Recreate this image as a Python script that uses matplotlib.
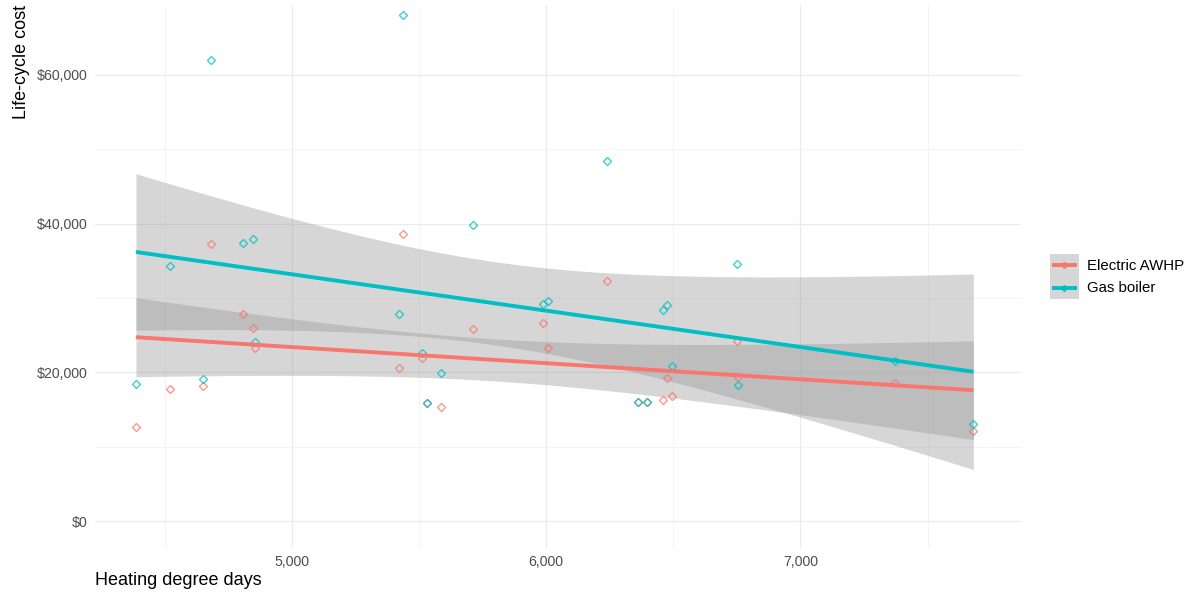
import numpy as np
import matplotlib
matplotlib.use("Agg")
import matplotlib.pyplot as plt
import matplotlib.ticker as ticker
from matplotlib.patches import Rectangle
from matplotlib.lines import Line2D

plt.rcParams['font.family'] = ['Liberation Sans', 'DejaVu Sans']

# heating degree days per site (same sites for both systems)
hdd = [4387, 4521, 4650, 4682, 4807, 4847, 4855, 5420, 5436, 5511, 5530, 5585, 5711,
       5987, 6006, 6238, 6363, 6395, 6458, 6477, 6493, 6752, 6756, 7373, 7680]

# life-cycle cost, gas boiler
gas_cost = [18430, 34300, 19100, 62000, 37400, 37900, 24080, 27840, 68060, 22600, 15870,
            19900, 39810, 29190, 29590, 48420, 16000, 16000, 28380, 29050, 20850, 34570,
            18300, 21520, 13050]

# life-cycle cost, electric air-to-water heat pump
awhp_cost = [12640, 17750, 18160, 37260, 27840, 25960, 23270, 20580, 38600, 21920, 15870,
             15330, 25820, 26630, 23270, 32280, 16000, 16000, 16270, 19230, 16810, 24210,
             19370, 18560, 12100]

series = [("Electric AWHP", awhp_cost, "#F8766D"), ("Gas boiler", gas_cost, "#00BFC4")]

T_CRIT = 2.069  # t(0.975, df=23)


def lm_band(x, y, n=80):
    x = np.asarray(x, float)
    y = np.asarray(y, float)
    b, a = np.polyfit(x, y, 1)
    resid = y - (a + b * x)
    s = np.sqrt(np.sum(resid ** 2) / (len(x) - 2))
    xs = np.linspace(x.min(), x.max(), n)
    se = s * np.sqrt(1 / len(x) + (xs - x.mean()) ** 2 / np.sum((x - x.mean()) ** 2))
    fit = a + b * xs
    return xs, fit, fit - T_CRIT * se, fit + T_CRIT * se


class KeyHandler:
    # grey ribbon box with the fit line and a point, like ggplot's legend key
    def legend_artist(self, legend, orig_handle, fontsize, handlebox):
        x0, y0 = -handlebox.xdescent, -handlebox.ydescent
        w, h = handlebox.width, handlebox.height
        tr = handlebox.get_transform()
        col = orig_handle.get_color()
        bg = Rectangle((x0, y0), w, h, facecolor="#d6d6d6", edgecolor="none", transform=tr)
        ln = Line2D([x0 + 0.08 * w, x0 + 0.92 * w], [y0 + h / 2] * 2, color=col, linewidth=2.8,
                    solid_capstyle="butt", transform=tr)
        mk = Line2D([x0 + w / 2], [y0 + h / 2], marker="D", markersize=3, markerfacecolor="none",
                    markeredgecolor=col, linestyle="none", transform=tr)
        for a in (bg, ln, mk):
            handlebox.add_artist(a)
        return bg


fig = plt.figure(figsize=(11.92, 5.94), dpi=100)
ax = fig.add_axes([0.0797, 0.0774, 0.777, 0.9142])

handles = []
for name, cost, col in series:
    xs, fit, lo, hi = lm_band(hdd, cost)
    ax.fill_between(xs, lo, hi, color="#999999", alpha=0.4, linewidth=0, zorder=2)
    fit_line, = ax.plot(xs, fit, color=col, linewidth=2.8, zorder=4, solid_capstyle="butt")
    ax.plot(hdd, cost, linestyle="none", marker="D", markersize=3.8, markerfacecolor="none",
            markeredgecolor=col, markeredgewidth=1.0, alpha=0.75, zorder=3)
    handles.append(fit_line)

ax.set_xlim(4226, 7868)
ax.set_ylim(-3630, 69400)

ax.xaxis.set_major_locator(ticker.MultipleLocator(1000))
ax.xaxis.set_minor_locator(ticker.MultipleLocator(500))
ax.yaxis.set_major_locator(ticker.MultipleLocator(20000))
ax.yaxis.set_minor_locator(ticker.MultipleLocator(10000))
ax.xaxis.set_major_formatter(ticker.FuncFormatter(lambda v, p: f"{v:,.0f}"))
ax.yaxis.set_major_formatter(ticker.FuncFormatter(lambda v, p: f"${v:,.0f}"))

ax.grid(which="major", color="#ebebeb", linewidth=0.9, zorder=0)
ax.grid(which="minor", color="#f3f3f3", linewidth=0.6, zorder=0)
ax.set_axisbelow(True)
for sp in ax.spines.values():
    sp.set_visible(False)
ax.tick_params(which="both", length=0, labelsize=10.2, labelcolor="#4d4d4d", pad=5)

ax.set_xlabel("Heating degree days", fontsize=13, loc="left", labelpad=2)
ax.set_ylabel("Life-cycle cost", fontsize=13, loc="top", labelpad=5)

ax.legend(handles, [s[0] for s in series], handler_map={Line2D: KeyHandler()},
          loc="center left", bbox_to_anchor=(1.031, 0.5), frameon=False, fontsize=10.8,
          handlelength=1.93, handleheight=1.9, labelspacing=0, handletextpad=0.53,
          borderaxespad=0, borderpad=0)

fig.savefig("out.png", dpi=100)
